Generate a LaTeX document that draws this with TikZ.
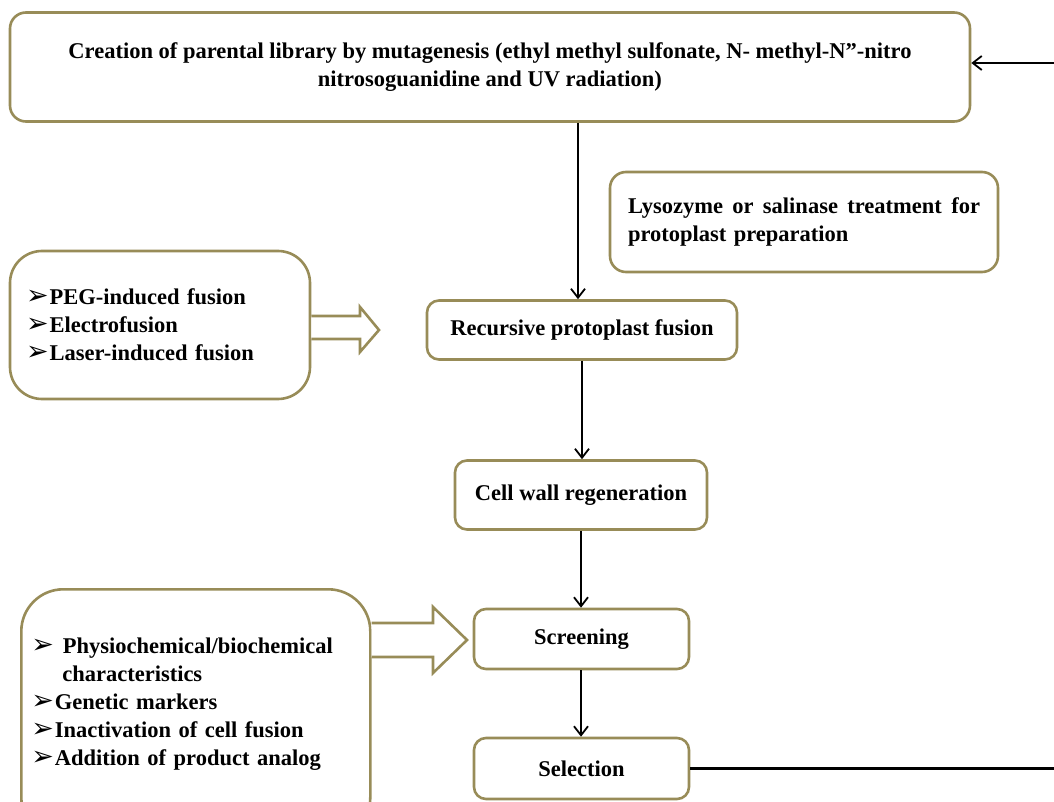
\documentclass[tikz,border=0pt]{standalone}
\usepackage{fontspec}
\setmainfont{Liberation Serif}
\newfontfamily\dingfont{DejaVu Sans}
\usetikzlibrary{arrows.meta}
\definecolor{olive}{RGB}{152,140,88}
\newcommand{\bul}{{\dingfont\fontsize{27}{27}\selectfont\char"27A2}\kern1pt}
\tikzset{
  box/.style={draw=olive, line width=2.6pt, fill=white, rounded corners=12pt, font=\bfseries\fontsize{22.5}{28}\selectfont, align=center, inner sep=0pt},
  arr/.style={draw=black, line width=2.2pt, -{Straight Barb[length=9pt,width=14pt,line width=1.8pt]}},
  plain/.style={draw=black, line width=2.4pt},
  hollow/.style={draw=olive, line width=2.6pt, fill=white, line join=miter}
}
\begin{document}
\begin{tikzpicture}[x=1pt,y=-1pt]
\clip (0,0) rectangle (1054,802);
\fill[white] (0,0) rectangle (1054,802);
% nodes
\node[box, minimum width=960pt, minimum height=109pt, rounded corners=16pt] (top) at (490,67)
  {Creation of parental library by mutagenesis (ethyl methyl sulfonate, N- methyl-N”-nitro\\nitrosoguanidine and UV radiation)};
\node[box, minimum width=388pt, minimum height=100pt, rounded corners=16pt, text width=352pt, align=left] (lyso) at (804,222)
  {Lysozyme\hfill or\hfill salinase\hfill treatment\hfill for\\protoplast preparation};
\node[box, minimum width=310pt, minimum height=59pt] (rec) at (582,330) {Recursive protoplast fusion};
\node[box, minimum width=252pt, minimum height=69pt] (cell) at (581,495) {Cell wall regeneration};
\node[box, minimum width=215pt, minimum height=60pt] (scr) at (581.5,639) {Screening};
\node[box, minimum width=215pt, minimum height=61pt] (sel) at (581.5,768.5) {Selection};
\node[box, minimum width=300pt, minimum height=148pt, rounded corners=32pt, text width=268pt, align=left] (peg) at (160,325)
  {\bul PEG-induced fusion\\\bul Electrofusion\\\bul Laser-induced fusion};
\node[box, minimum width=349pt, minimum height=250pt, rounded corners=42pt, text width=329pt, align=left, anchor=north west] (phys) at (20,588)
  {\bul\hspace{8pt}Physiochemical/biochemical\\\hspace*{31pt}characteristics\\\bul Genetic markers\\\bul Inactivation of cell fusion\\\bul Addition of product analog\\[-2pt]\mbox{}};
% hollow arrows
\draw[hollow] (peg.east |- 0,316) -- (360,316) -- (360,307) -- (379,330) -- (360,352) -- (360,339) -- (peg.east |- 0,339);
\draw[hollow] (phys.east |- 0,623) -- (433,623) -- (433,607) -- (467,640) -- (433,673) -- (433,657) -- (phys.east |- 0,657);
% connectors
\coordinate (loopin) at (1054,63);
\coordinate (loopout) at (1054,768.5);
\draw[arr] (top.south -| 578,0) -- (rec.north -| 578,0);
\draw[arr] (rec.south) -- (cell.north -| rec.south);
\draw[arr] (cell.south -| 581,0) -- (scr.north -| 581,0);
\draw[arr] (scr.south -| 581,0) -- (sel.north -| 581,0);
\draw[plain] (sel.east) -- (loopout);
\draw[arr] (loopin) -- (top.east |- loopin);
\end{tikzpicture}
\end{document}
